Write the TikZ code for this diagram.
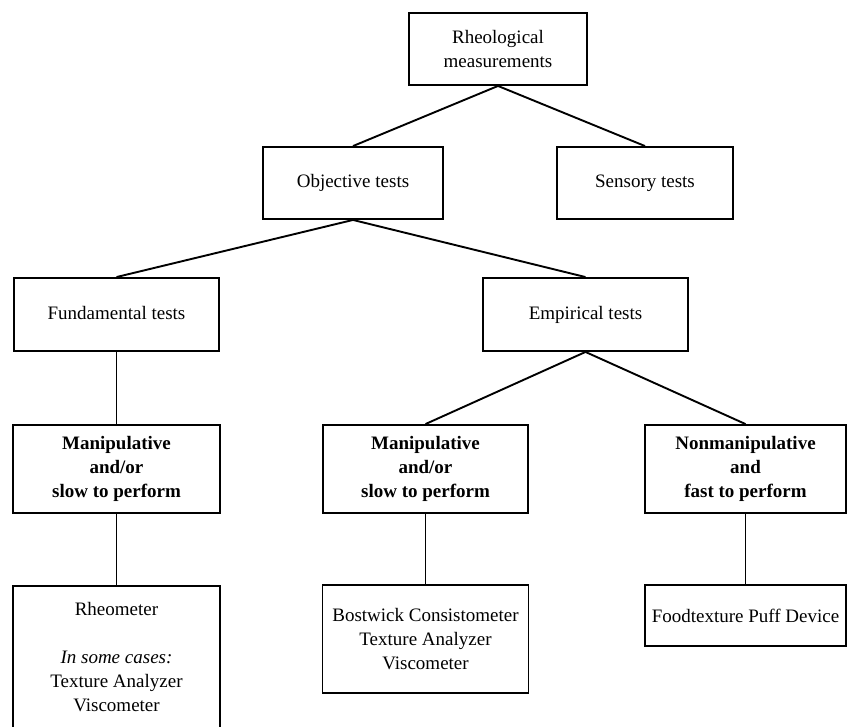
\documentclass[tikz,border=0pt]{standalone}
\usepackage{fontspec}
\setmainfont{Liberation Serif}
\begin{document}
\begin{tikzpicture}[x=1pt,y=-1pt,
  box/.style={draw, line width=1.9pt, inner sep=0pt, align=center,
    font=\fontsize{19}{24}\selectfont},
  bbox/.style={box, font=\fontsize{19}{24}\selectfont\bfseries},
  txt/.style={inner sep=0pt, align=center, font=\fontsize{19}{24}\selectfont},
  link/.style={line width=1.9pt}]
\clip (0,0) rectangle (848,726);
\fill[white] (0,0) rectangle (848,726);
\node[box, minimum width=178, minimum height=72] (rheo) at (498,49) {Rheological\\measurements};
\node[box, minimum width=180, minimum height=72] (obj) at (353,183) {Objective tests};
\node[box, minimum width=176, minimum height=72] (sens) at (645,183) {Sensory tests};
\node[box, minimum width=205, minimum height=73] (fund) at (116.5,314.5) {Fundamental tests\vphantom{p}};
\node[box, minimum width=205, minimum height=73] (emp) at (585.5,314.5) {Empirical tests};
\node[bbox, minimum width=207, minimum height=88] (man1) at (116.5,469) {Manipulative\\and/or\\slow to perform};
\node[bbox, minimum width=205, minimum height=88] (man2) at (425.5,469) {Manipulative\\and/or\\slow to perform};
\node[bbox, minimum width=201, minimum height=88] (nonman) at (745.5,469) {Nonmanipulative\\and\\fast to perform};
\node[box, minimum width=207, minimum height=170, anchor=north] (rm) at (116.5,585) {};
\node[txt] (rmtext) at (116.5,657) {Rheometer\\[24pt]\textit{In some cases:}\\Texture Analyzer\\Viscometer};
\node[box, minimum width=206, minimum height=108] (bost) at (425.5,639) {Bostwick Consistometer\\Texture Analyzer\\Viscometer};
\node[box, minimum width=201, minimum height=61] (food) at (745.5,615.5) {Foodtexture Puff Device};
\draw[link] (rheo.south) -- (obj.north);
\draw[link] (rheo.south) -- (sens.north);
\draw[link] (obj.south) -- (fund.north);
\draw[link] (obj.south) -- (emp.north);
\draw[link] (fund.south) -- (man1.north);
\draw[link] (emp.south) -- (man2.north);
\draw[link] (emp.south) -- (nonman.north);
\draw[link] (man1.south) -- (rm.north);
\draw[link] (man2.south) -- (bost.north);
\draw[link] (nonman.south) -- (food.north);
\end{tikzpicture}
\end{document}
